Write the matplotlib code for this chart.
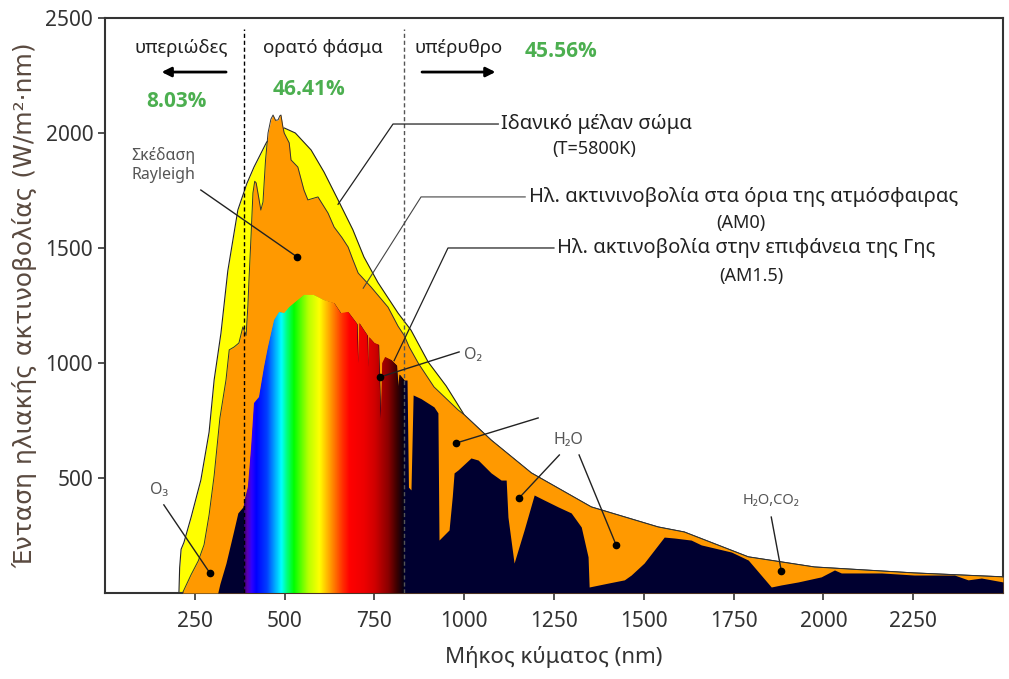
import numpy as np
import matplotlib
matplotlib.use("Agg")
import matplotlib.pyplot as plt
from matplotlib.colors import LinearSegmentedColormap
from matplotlib.patches import Polygon

plt.rcParams['font.family'] = ['Noto Sans', 'DejaVu Sans']

# ιδανικό μέλαν σώμα (T=5800K), τιμές από την εικόνα
bb_wl = [206, 208, 212, 220, 240, 267, 290, 304, 323, 342, 370, 395, 415, 450, 480, 499,
         530, 574, 610, 649, 690, 721, 760, 816, 852, 900, 950, 1000, 1075, 1187, 1354,
         1540, 1613, 1791, 1975, 2253, 2500]
bb_val = [0, 110, 190, 220, 330, 491, 700, 926, 1130, 1400, 1665, 1780, 1852, 1960, 2005, 2022,
          2000, 1926, 1830, 1709, 1580, 1461, 1350, 1217, 1143, 1004, 900, 775, 665, 522, 374,
          287, 265, 157, 113, 87, 70]

# AM0
am0_wl = [216, 225, 240, 260, 276, 290, 304, 320, 337, 346, 360, 373, 384, 393, 398, 401,
          407, 412, 417, 421, 428, 434, 440, 447, 454, 462, 468, 475, 482, 487, 490, 495,
          499, 513, 518, 537, 554, 565, 593, 621, 638, 660, 677, 690, 705, 741, 788, 816,
          833, 847, 872, 916, 983, 1000, 1075, 1187, 1354, 1540, 1613, 1791, 1975, 2253, 2500]
am0_val = [0, 30, 80, 140, 210, 340, 510, 760, 926, 1057, 1070, 1087, 1157, 1120, 1250, 1361,
           1560, 1739, 1790, 1783, 1720, 1665, 1700, 1880, 2000, 2060, 2078, 2055, 2057, 2075, 2078, 2030,
           2000, 1957, 1883, 1852, 1752, 1709, 1722, 1652, 1591, 1545, 1504, 1450, 1391, 1330, 1243, 1160,
           1120, 1070, 1000, 896, 796, 775, 665, 522, 374, 287, 265, 157, 113, 87, 70]

# AM1.5
am15_wl = [314, 320, 337, 357, 370, 384, 398, 407, 415, 429, 443, 454, 471, 485, 499, 513,
           537, 554, 582, 610, 638, 657, 677, 694, 702, 705, 708, 721, 731, 733, 735, 750,
           762, 768, 772, 780, 797, 812, 816, 820, 833, 841, 845, 852, 858, 880, 916, 927,
           930, 958, 967, 972, 983, 1019, 1039, 1075, 1103, 1117, 1122, 1139, 1167, 1195, 1223,
           1262, 1298, 1326, 1345, 1348, 1401, 1446, 1465, 1501, 1557, 1585, 1632, 1660, 1744,
           1791, 1855, 1883, 1930, 1994, 2031, 2050, 2162, 2253, 2365, 2403, 2440, 2500]
am15_val = [0, 40, 130, 261, 348, 374, 461, 635, 826, 852, 983, 1070, 1187, 1222, 1217, 1243,
            1274, 1296, 1296, 1274, 1261, 1217, 1222, 1187, 1170, 1000, 1174, 1143, 1120, 983, 1113, 1087,
            1080, 756, 1000, 1026, 1013, 990, 896, 950, 926, 926, 460, 448, 861, 845, 809, 783,
            230, 274, 420, 522, 535, 587, 578, 522, 491, 491, 330, 130, 274, 426, 404,
            374, 348, 287, 157, 26, 43, 57, 78, 130, 243, 239, 230, 209, 178,
            143, 26, 35, 48, 70, 100, 87, 87, 78, 78, 57, 65, 48]

# χρώματα ορατού φάσματος
spec_wl = [387, 395, 407, 420, 450, 472, 490, 505, 525, 546, 565, 596, 630, 660, 680, 720, 750, 788, 812, 830]
spec_col = ['#3a0070', '#5a00b0', '#3000ff', '#0000ff', '#0040ff', '#00a8ff', '#00ffff', '#00ff80',
            '#00ff00', '#60ff00', '#b8ff00', '#ffff00', '#ff9000', '#ff3000', '#ff0000', '#ee0000',
            '#d00000', '#8a0000', '#3a0000', '#050015']

xticks = [250, 500, 750, 1000, 1250, 1500, 1750, 2000, 2250]
yticks = [500, 1000, 1500, 2000, 2500]

fig = plt.figure(figsize=(10.09, 6.79), dpi=100)
ax = fig.add_axes([0.104, 0.1267, 0.890, 0.8468])

ax.fill_between(bb_wl, bb_val, color='#ffff00', lw=0, zorder=1)
ax.plot(bb_wl, bb_val, color='#222222', lw=0.8, zorder=2)
ax.fill_between(am0_wl, am0_val, color='#ff9900', lw=0, zorder=3)
ax.plot(am0_wl, am0_val, color='#333333', lw=0.7, zorder=4)
ax.fill_between(am15_wl, am15_val, color='#000030', lw=0, zorder=5)

# ουράνιο τόξο μέσα στην καμπύλη AM1.5
pos = [(w - spec_wl[0]) / (spec_wl[-1] - spec_wl[0]) for w in spec_wl]
cmap = LinearSegmentedColormap.from_list('spec', list(zip(pos, spec_col)))
grad = np.linspace(0, 1, 600)[None, :]
im = ax.imshow(grad, cmap=cmap, extent=[spec_wl[0], spec_wl[-1], 0, 1400],
               aspect='auto', zorder=6, interpolation='bilinear')
verts = list(zip(am15_wl, am15_val)) + [(am15_wl[-1], 0), (am15_wl[0], 0)]
clip = Polygon(verts, closed=True, transform=ax.transData, facecolor='none', edgecolor='none')
ax.add_patch(clip)
im.set_clip_path(clip)

# διακεκομμένες γραμμές
ax.plot([387, 387], [0, 2450], color='black', lw=1.0, ls=(0, (3, 2)), zorder=7)
ax.plot([833, 833], [0, 2450], color='#555555', lw=1.0, ls=(0, (3, 2)), zorder=7)

ax.set_xlim(0, 2500)
ax.set_ylim(0, 2500)
ax.set_xticks(xticks)
ax.set_yticks(yticks)
ax.tick_params(direction='out', length=5, width=1.2, labelsize=15, colors='#333333')
ax.tick_params(axis='x', pad=8)
for s in ax.spines.values():
    s.set_linewidth(1.5)
    s.set_color('#333333')
ax.set_xlabel('Μήκος κύματος (nm)', fontsize=16, color='#333333', labelpad=10)
ax.set_ylabel('Ένταση ηλιακής ακτινοβολίας (W/m²·nm)', fontsize=18, color='#5a4a40',
              labelpad=6, family=['DejaVu Sans'])

# περιοχές
tk = dict(fontsize=13.5, color='#222222', ha='center', va='center', zorder=10)
ax.text(212, 2370, 'υπεριώδες', **tk)
ax.text(607, 2370, 'ορατό φάσμα', **tk)
ax.text(985, 2370, 'υπέρυθρο', **tk)
ax.annotate('', xy=(150, 2265), xytext=(345, 2265),
            arrowprops=dict(arrowstyle='-|>', color='black', lw=2, mutation_scale=14))
ax.annotate('', xy=(1095, 2265), xytext=(875, 2265),
            arrowprops=dict(arrowstyle='-|>', color='black', lw=2, mutation_scale=14))
pk = dict(fontsize=15, color='#4caf50', fontweight='bold', ha='center', va='center',
          family=['Open Sans', 'DejaVu Sans'], zorder=10)
ax.text(200, 2135, '8.03%', **pk)
ax.text(568, 2190, '46.41%', **pk)
ax.text(1270, 2355, '45.56%', **pk)

# ετικέτες καμπυλών
lk = dict(color='#222222', lw=0.9, zorder=9)
ax.plot([1095, 802, 649], [2039, 2039, 1690], **lk)
ax.text(1103, 2039, 'Ιδανικό μέλαν σώμα', fontsize=14.5, color='#222222', va='center', zorder=10)
ax.text(1363, 1930, '(T=5800K)', fontsize=13, color='#222222', ha='center', va='center', zorder=10)

ax.plot([1170, 880, 719], [1722, 1722, 1325], color='#444444', lw=0.8, zorder=9)
ax.text(1180, 1722, 'Ηλ. ακτινινοβολία στα όρια της ατμόσφαιρας', fontsize=14.5,
        color='#222222', va='center', zorder=10)
ax.text(1770, 1610, '(AM0)', fontsize=13, color='#222222', ha='center', va='center', zorder=10)

ax.plot([1250, 955, 805], [1500, 1500, 1010], **lk)
ax.text(1258, 1500, 'Ηλ. ακτινοβολία στην επιφάνεια της Γης', fontsize=14.5,
        color='#222222', va='center', zorder=10)
ax.text(1800, 1380, '(AM1.5)', fontsize=13, color='#222222', ha='center', va='center', zorder=10)

# απορροφήσεις
gk = dict(color='#555555', ha='center', va='center', zorder=10)
ax.text(163, 1860, 'Σκέδαση\nRayleigh', fontsize=11.5, linespacing=1.3, **gk)
ax.plot([267, 535], [1752, 1461], color='#222222', lw=1, zorder=9)
ax.plot(535, 1461, 'o', color='black', ms=4.5, zorder=10)

ax.text(150, 448, 'O₃', fontsize=11.5, **gk)
ax.plot([164, 292], [383, 87], color='#222222', lw=1, zorder=9)
ax.plot(292, 87, 'o', color='black', ms=4.5, zorder=10)

ax.text(1025, 1035, 'O₂', fontsize=11.5, **gk)
ax.plot([766, 986], [939, 1048], color='#222222', lw=1, zorder=9)
ax.plot(766, 939, 'o', color='black', ms=4.5, zorder=10)

ax.text(1290, 665, 'H₂O', fontsize=11.5, **gk)
ax.plot([1206, 978], [761, 652], color='#222222', lw=1, zorder=9)
ax.plot(978, 652, 'o', color='black', ms=4.5, zorder=10)
ax.plot([1265, 1153], [600, 413], color='#222222', lw=1, zorder=9)
ax.plot(1153, 413, 'o', color='black', ms=4.5, zorder=10)
ax.plot([1320, 1423], [600, 209], color='#222222', lw=1, zorder=9)
ax.plot(1423, 209, 'o', color='black', ms=4.5, zorder=10)

ax.text(1855, 400, 'H₂O,CO₂', fontsize=10.5, **gk)
ax.plot([1855, 1883], [330, 96], color='#222222', lw=1, zorder=9)
ax.plot(1883, 96, 'o', color='black', ms=4.5, zorder=10)

fig.savefig('out.png', dpi=100)
